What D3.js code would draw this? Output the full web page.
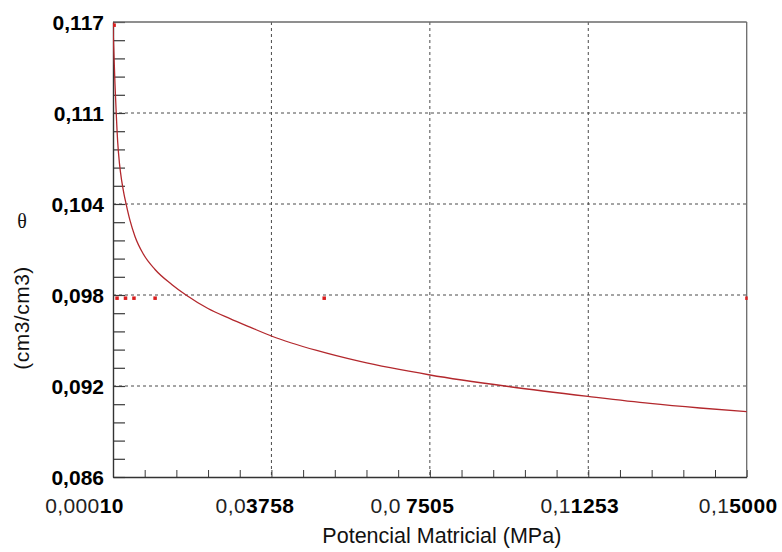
<!DOCTYPE html>
<html>
<head>
<meta charset="utf-8">
<script src="https://cdn.jsdelivr.net/npm/d3@7"></script>
<style>
  html, body { margin: 0; padding: 0; background: #fff; }
  svg { display: block; font-family: "Liberation Sans", Arial, sans-serif; }
</style>
</head>
<body>
<svg id="chart" width="782" height="552"></svg>
<script>
// ---- data ----
const curveH = [0.0001, 0.00017, 0.00027, 0.00041, 0.00057, 0.00081, 0.00121, 0.00164, 0.00216, 0.00270,
                0.00318, 0.00412, 0.00530, 0.00727, 0.01004, 0.01399, 0.01737, 0.02257, 0.02778, 0.03251,
                0.03771, 0.04829, 0.05853, 0.07509, 0.09401, 0.11246, 0.12713, 0.13895, 0.15000];
const curveTheta = [0.11700, 0.11611, 0.11523, 0.11407, 0.11278, 0.11114, 0.10882, 0.10733, 0.10617, 0.10528,
                    0.10463, 0.10348, 0.10239, 0.10119, 0.10014, 0.09912, 0.09840, 0.09748, 0.09679, 0.09621,
                    0.09559, 0.09462, 0.09387, 0.09295, 0.09215, 0.09149, 0.09101, 0.09070, 0.09045];
const obsH = [0.0003, 0.001, 0.003, 0.005, 0.01, 0.05, 0.15];
const obsTheta = [0.1168, 0.0982, 0.0982, 0.0982, 0.0982, 0.0982, 0.0982];

const xTickValues = [0.0001, 0.037575, 0.07505, 0.112525, 0.15];
const xTickLabelA = ["0,000", "0,0", "0,0", "0,1", "0,1"];   // lighter part
const xTickLabelB = ["10", "3758", "7505", "1253", "5000"]; // bold part
const yTickValues = [0.086, 0.0922, 0.0984, 0.1046, 0.1108, 0.117];
const yTickLabels = ["0,086", "0,092", "0,098", "0,104", "0,111", "0,117"];

const xTitle = "Potencial Matricial (MPa)";
const yTitleSymbol = "\u03B8";
const yTitleUnits = "(cm3/cm3)";

// ---- layout / style ----
const M = { left: 113, right: 746.7, top: 22, bottom: 477 };
const xLabelShift = [-29, -17, -18, -9, -9];
const curveColor = "#b3282d";
const dotColor = "#d91e1e";
const gridColor = "#4a4a4a";
const tickColor = "#3a3a3a";

const svg = d3.select("#chart");

const x = d3.scaleLinear().domain([0.0001, 0.15]).range([M.left, M.right]);
const y = d3.scaleLinear().domain([0.086, 0.117]).range([M.bottom, M.top]);

// minor tick values (5 subdivisions per major interval)
const xMinor = d3.range(0, 21).map(i => 0.0001 + i * (0.1499 / 20));
const yMinor = d3.range(0, 26).map(i => 0.086 + i * (0.031 / 25));

// grid lines (dashed)
const grid = svg.append("g");
grid.selectAll("line.gx").data(xTickValues.slice(1, -1)).join("line")
  .attr("x1", d => x(d)).attr("x2", d => x(d))
  .attr("y1", M.top).attr("y2", M.bottom)
  .attr("stroke", gridColor).attr("stroke-width", 1).attr("stroke-dasharray", "3,3");
grid.selectAll("line.gy").data(yTickValues.slice(1, -1)).join("line")
  .attr("x1", M.left).attr("x2", M.right)
  .attr("y1", d => y(d)).attr("y2", d => y(d))
  .attr("stroke", gridColor).attr("stroke-width", 1).attr("stroke-dasharray", "3,3");

// minor ticks via axes (inward)
const yMinorAxis = d3.axisRight(y).tickValues(yMinor).tickSize(12).tickFormat("");
const gym = svg.append("g").attr("transform", `translate(${M.left},0)`).call(yMinorAxis);
gym.select(".domain").remove();
gym.selectAll(".tick line").attr("stroke", tickColor).attr("stroke-width", 1.2);

const xMinorAxis = d3.axisTop(x).tickValues(xMinor).tickSize(7).tickFormat("");
const gxm = svg.append("g").attr("transform", `translate(0,${M.bottom})`).call(xMinorAxis);
gxm.select(".domain").remove();
gxm.selectAll(".tick line").attr("stroke", tickColor).attr("stroke-width", 1);

// frame
svg.append("line").attr("x1", M.left).attr("x2", M.right).attr("y1", M.top).attr("y2", M.top)
  .attr("stroke", "#6a6a6a").attr("stroke-width", 1.3);
svg.append("line").attr("x1", M.right).attr("x2", M.right).attr("y1", M.top).attr("y2", M.bottom)
  .attr("stroke", "#6a6a6a").attr("stroke-width", 1.3);

// main axes with labels
const yAxis = d3.axisLeft(y).tickValues(yTickValues).tickSize(0).tickPadding(9)
  .tickFormat((d, i) => yTickLabels[i]);
const gy = svg.append("g").attr("transform", `translate(${M.left},0)`).call(yAxis);
gy.select(".domain").attr("stroke", "#333").attr("stroke-width", 1.4);
gy.selectAll(".tick text")
  .attr("font-family", "'Liberation Sans', Arial, sans-serif")
  .attr("font-size", 21).attr("font-weight", "bold").attr("fill", "#000")
  .attr("dy", "0.36em");

const xAxis = d3.axisBottom(x).tickValues(xTickValues).tickSize(0).tickFormat("");
const gx = svg.append("g").attr("transform", `translate(0,${M.bottom})`).call(xAxis);
gx.select(".domain").attr("stroke", "#333").attr("stroke-width", 1.4);
gx.selectAll(".tick").each(function(d, i) {
  const t = d3.select(this).append("text")
    .attr("x", xLabelShift[i]).attr("y", 36)
    .attr("text-anchor", "middle")
    .attr("font-family", "'Liberation Sans', Arial, sans-serif")
    .attr("font-size", 21).attr("letter-spacing", "0.4")
    .attr("fill", "#111");
  t.append("tspan").attr("font-weight", "normal").attr("fill", "#222").text(xTickLabelA[i]);
  t.append("tspan").attr("font-weight", "bold").attr("fill", "#000")
    .attr("dx", i === 2 ? 5 : 0).text(xTickLabelB[i]);
});

// clip for marks
svg.append("clipPath").attr("id", "clip").append("rect")
  .attr("x", M.left).attr("y", M.top - 1).attr("width", M.right - M.left + 1).attr("height", M.bottom - M.top + 1);

// curve
const curveData = curveH.map((h, i) => ({ h, t: curveTheta[i] }));
const line = d3.line().x(d => x(d.h)).y(d => y(d.t)).curve(d3.curveMonotoneX);
svg.append("path").datum(curveData)
  .attr("clip-path", "url(#clip)")
  .attr("d", line).attr("fill", "none")
  .attr("stroke", curveColor).attr("stroke-width", 1.3);

// observed points (small squares)
const obsData = obsH.map((h, i) => ({ h, t: obsTheta[i] }));
svg.append("g").attr("clip-path", "url(#clip)")
  .selectAll("rect").data(obsData).join("rect")
  .attr("x", d => x(d.h) - 1.5).attr("y", d => y(d.t) - 1.5)
  .attr("width", 3.5).attr("height", 3.5)
  .attr("fill", dotColor);

// titles
svg.append("text")
  .attr("x", (M.left + M.right) / 2 + 12).attr("y", 543)
  .attr("text-anchor", "middle")
  .attr("font-size", 21.5).attr("fill", "#111")
  .text(xTitle);

svg.append("text")
  .attr("x", 22).attr("y", 228)
  .attr("text-anchor", "middle")
  .attr("font-family", "'Liberation Serif', 'DejaVu Serif', serif")
  .attr("font-size", 20).attr("fill", "#111")
  .text(yTitleSymbol);

svg.append("text")
  .attr("transform", "translate(29,318) rotate(-90)")
  .attr("text-anchor", "middle")
  .attr("font-size", 21).attr("letter-spacing", "0.5").attr("fill", "#111")
  .text(yTitleUnits);
</script>
</body>
</html>
